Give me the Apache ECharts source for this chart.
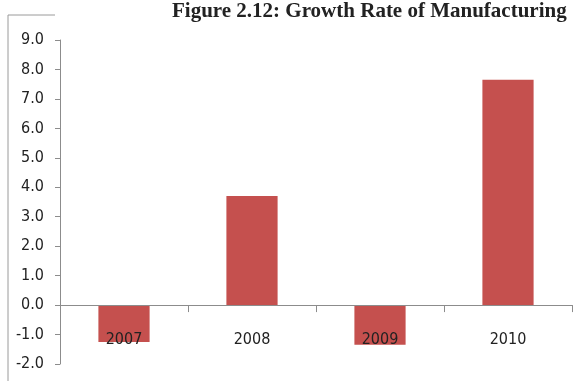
<!DOCTYPE html>
<html>
<head>
<meta charset="utf-8">
<script src="https://cdn.jsdelivr.net/npm/echarts@6/dist/echarts.min.js"></script>
<style>
  html, body { margin: 0; padding: 0; background: #fff; }
  #chart { width: 575px; height: 381px; }
</style>
</head>
<body>
<div id="chart"></div>
<script>
// Annual growth rate of manufacturing (%)
const years = ['2007', '2008', '2009', '2010'];
const growthRate = [-1.25, 3.7, -1.35, 7.65];
const yMin = -2;
const yMax = 9;
const yStep = 1;

const chart = echarts.init(document.getElementById('chart'), null, { renderer: 'canvas' });

const axisGray = '#8c8c8c';
const labelFont = '"DejaVu Sans Condensed", "Liberation Sans", sans-serif';

chart.setOption({
  animation: false,
  backgroundColor: '#ffffff',
  title: {
    text: 'Figure 2.12: Growth Rate of Manufacturing',
    left: 172,
    top: 1,
    padding: 0,
    textStyle: {
      fontFamily: '"Liberation Serif", "Times New Roman", serif',
      fontWeight: 'bold',
      fontSize: 21,
      color: '#222'
    }
  },
  graphic: [
    {
      type: 'polyline',
      shape: { points: [[55, 15], [8, 15], [8, 381]] },
      style: { stroke: '#9a9a9a', lineWidth: 1, fill: null }
    }
  ],
  grid: {
    left: 60, right: 3, top: 40, bottom: 17,
    containLabel: false,
    outerBoundsMode: 'none'
  },
  xAxis: {
    type: 'category',
    data: years,
    boundaryGap: true,
    z: 5,
    axisLine: { onZero: true, lineStyle: { color: axisGray, width: 1 } },
    axisTick: { show: true, length: 7, alignWithLabel: false, lineStyle: { color: axisGray } },
    axisLabel: {
      margin: -32,
      fontFamily: labelFont,
      fontSize: 16,
      color: '#222'
    },
    splitLine: { show: false }
  },
  yAxis: {
    type: 'value',
    min: yMin,
    max: yMax,
    interval: yStep,
    axisLine: { show: true, lineStyle: { color: axisGray, width: 1 } },
    axisTick: { show: true, length: 5, lineStyle: { color: axisGray } },
    axisLabel: {
      margin: 16,
      fontFamily: labelFont,
      fontSize: 16,
      color: '#222',
      formatter: v => v.toFixed(1)
    },
    splitLine: { show: false }
  },
  series: [
    {
      type: 'bar',
      data: growthRate,
      barWidth: '40%',
      itemStyle: { color: '#C5504E' }
    }
  ]
});
</script>
</body>
</html>
